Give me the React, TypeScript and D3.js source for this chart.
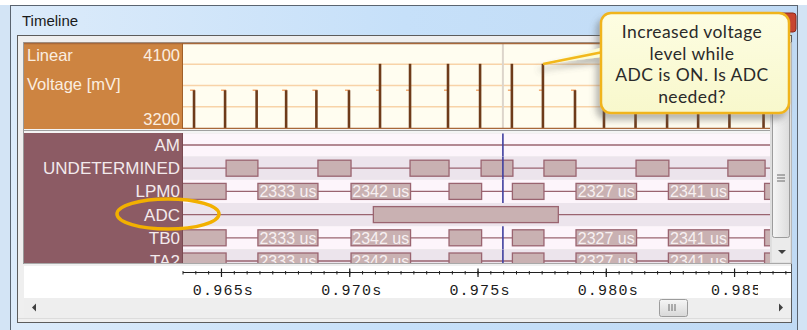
import React from "react";
import * as d3 from "d3";

const W = 807;
const H = 330;

// Voltage spikes (time in ms, voltage in mV)
const spikeTimes = [963.93, 965.14, 966.37, 967.52, 968.7, 969.97, 971.18, 972.35, 973.83, 975.08, 976.32, 977.53, 978.78, 979.91, 981.14, 982.37, 983.58, 984.8, 986.13];
const spikeVoltages = [3600, 3600, 3600, 3600, 3600, 3600, 3880, 3880, 3880, 3880, 3880, 3880, 3600, 3600, 3600, 3600, 3600, 3600, 3600];
const voltageGrid = [3425, 3650, 3875];
const voltageTicks = ["4100", "3200"];

// State rows
const stateLabels = ["AM", "UNDETERMINED", "LPM0", "ADC", "TB0", "TA2"];
const undeterminedOn: [number, number][] = [[965.18, 966.42], [968.76, 970.05], [972.35, 973.87], [975.12, 976.36], [977.57, 978.82], [981.16, 982.44], [984.74, 986.19]];
const lpm0On: [number, number][] = [[963.2, 965.18], [966.42, 968.76], [970.05, 972.37], [973.87, 975.14], [976.34, 977.57], [978.82, 981.18], [982.42, 984.77], [986.17, 987.6]];
const lpm0Labels = ["", "2333 us", "2342 us", "", "", "2327 us", "2341 us", ""];
const adcOn: [number, number][] = [[970.92, 978.13]];
const cursorTime = 975.97;

// Axis
const tickValues = [965, 970, 975, 980, 985];
const tickLabels = ["0.965s", "0.970s", "0.975s", "0.980s", "0.985"];

const calloutLines = ["Increased voltage", "level while", "ADC is ON. Is ADC", "needed?"];

export default function App() {
  const x = d3.scaleLinear().domain([963.5, 987.2]).range([183, 791]);
  const yV = d3.scaleLinear().domain([3200, 4100]).range([128, 43]);
  const rowY = d3.scalePoint<string>().domain(stateLabels).range([145, 261]);
  const step = rowY.step();

  const rows = [
    { name: "AM", on: [] as [number, number][], labels: [] as string[] },
    { name: "UNDETERMINED", on: undeterminedOn, labels: [] as string[] },
    { name: "LPM0", on: lpm0On, labels: lpm0Labels },
    { name: "ADC", on: adcOn, labels: [] as string[] },
    { name: "TB0", on: lpm0On, labels: lpm0Labels },
    { name: "TA2", on: lpm0On, labels: lpm0Labels },
  ];

  const minorTicks = d3.range(963.5, 987.3, 0.5);
  const plotR = 770;
  const cx = x(cursorTime);

  return (
    <div style={{ position: "fixed", left: 0, top: 0 }}>
      <svg width={W} height={H} style={{ display: "block" }} fontFamily="Liberation Sans, Arial, sans-serif">
        <defs>
          <linearGradient id="title" x1="0" y1="0" x2="1" y2="0">
            <stop offset="0" stopColor="#dcebfa" />
            <stop offset="0.5" stopColor="#c6e0f9" />
            <stop offset="1" stopColor="#c0daf4" />
          </linearGradient>
          <linearGradient id="thumbV" x1="0" y1="0" x2="1" y2="0">
            <stop offset="0" stopColor="#f6f6f6" />
            <stop offset="1" stopColor="#dcdcdc" />
          </linearGradient>
          <linearGradient id="thumbH" x1="0" y1="0" x2="0" y2="1">
            <stop offset="0" stopColor="#f6f6f6" />
            <stop offset="1" stopColor="#d8d8d8" />
          </linearGradient>
          <linearGradient id="callout" x1="0" y1="0" x2="0" y2="1">
            <stop offset="0" stopColor="#fdfde2" />
            <stop offset="1" stopColor="#f8f8cc" />
          </linearGradient>
          <filter id="shadow" x="-20%" y="-20%" width="140%" height="150%">
            <feDropShadow dx="-4" dy="6" stdDeviation="3" floodColor="#606060" floodOpacity="0.45" />
          </filter>
          <filter id="soft" x="-10%" y="-30%" width="120%" height="160%">
            <feGaussianBlur stdDeviation="0.6" />
          </filter>
          <clipPath id="vclip"><rect x={183} y={43} width={plotR - 183} height={86} /></clipPath>
          <clipPath id="sclip"><rect x={24} y={133} width={plotR - 24} height={130} /></clipPath>
          <clipPath id="pclip"><rect x={183} y={133} width={plotR - 183} height={130} /></clipPath>
          <clipPath id="aclip"><rect x={183} y={263} width={575} height={35} /></clipPath>
        </defs>

        {/* desktop / frame */}
        <rect x={0} y={0} width={W} height={H} fill="#d3e4f5" />
        <rect x={0} y={0} width={W} height={5} fill="#ffffff" />
        <rect x={10.5} y={5.5} width={787} height={330} fill="url(#title)" stroke="#5a6470" />
        <text x={22} y={26} fontSize={15} fill="#1a1a1a">Timeline</text>
        {/* close button, mostly hidden */}
        <rect x={752} y={13} width={44} height={19} rx={3} fill="#c8452f" stroke="#8a2a1c" />
        <text x={774} y={28} fontSize={14} fill="#fff" textAnchor="middle" fontWeight="bold">X</text>

        {/* client area */}
        <rect x={17.5} y={35.5} width={774} height={287} fill="#efefef" stroke="#5c5c5c" />
        <rect x={23.5} y={42.5} width={768} height={221} fill="#e6e6e6" stroke="#9a9a9a" />

        {/* voltage panel */}
        <rect x={24} y={43} width={159} height={86} fill="#cd8441" />
        <rect x={183} y={43} width={plotR - 183} height={86} fill="#fffdf0" />
        <g clipPath="url(#vclip)">
          {voltageGrid.map((v) => (
            <line key={v} x1={183} x2={plotR} y1={yV(v)} y2={yV(v)} stroke="#f8d3a8" strokeWidth={1.5} />
          ))}
          <line x1={cx} x2={cx} y1={43} y2={129} stroke="#ddd5cb" strokeWidth={2} />
          {spikeTimes.map((t, i) => (
            <g key={i}>
              <line x1={x(t) - 4} x2={x(t) + 1} y1={yV(3600)} y2={yV(3600)} stroke="#f2ab70" strokeWidth={1.5} />
              <line x1={x(t)} x2={x(t)} y1={yV(3200)} y2={yV(spikeVoltages[i])} stroke="#6e3b1a" strokeWidth={2.6} />
            </g>
          ))}
        </g>
        <line x1={24} x2={plotR} y1={43.5} y2={43.5} stroke="#a8683a" strokeWidth={1.5} />
        <line x1={183} x2={plotR} y1={128.5} y2={128.5} stroke="#a8683a" strokeWidth={1.5} />
        <line x1={182.5} x2={182.5} y1={43} y2={129} stroke="#a0602a" />
        <text x={27} y={61} fontSize={16.5} fill="#fbeee0">Linear</text>
        <text x={27} y={90} fontSize={16.5} fill="#fbeee0">Voltage [mV]</text>
        <text x={180} y={61} fontSize={16.5} fill="#fbeee0" textAnchor="end">{voltageTicks[0]}</text>
        <text x={180} y={125} fontSize={16.5} fill="#fbeee0" textAnchor="end">{voltageTicks[1]}</text>

        {/* separator */}
        <rect x={24} y={129} width={plotR - 24} height={4} fill="#f4f4f4" />
        <line x1={24} x2={plotR} y1={130.5} y2={130.5} stroke="#a0a0a0" />

        {/* state panel */}
        <g clipPath="url(#sclip)">
          <rect x={24} y={133} width={159} height={130} fill="#8c5b64" />
          {rows.map((r) => {
            const cy = rowY(r.name)!;
            return (
              <text key={r.name} x={180} y={cy + 6} fontSize={17} fill="#f3eaec" textAnchor="end">{r.name}</text>
            );
          })}
          <line x1={182.5} x2={182.5} y1={133} y2={263} stroke="#7a4a52" />
        </g>
        <g clipPath="url(#pclip)">
          {rows.map((r, i) => {
            const cy = rowY(r.name)!;
            return (
              <g key={r.name}>
                <rect x={183} y={cy - step / 2} width={plotR - 183} height={step} fill={i % 2 === 0 ? "#fdf5fb" : "#ece4ec"} />
                <line x1={183} x2={plotR} y1={cy} y2={cy} stroke="#9a6470" strokeWidth={1.3} />
                {r.on.map(([a, b], j) => (
                  <g key={j}>
                    <rect x={x(a)} y={cy - 8} width={x(b) - x(a)} height={16} fill="#c9b1b2" stroke="#9a6470" strokeWidth={1.3} />
                    {r.labels[j] ? (
                      <text x={(x(a) + x(b)) / 2} y={cy + 6} fontSize={16} textAnchor="middle" fill="#f7f0f1" fontFamily="Liberation Sans Narrow, Liberation Sans, Arial, sans-serif">{r.labels[j]}</text>
                    ) : null}
                  </g>
                ))}
                {r.name !== "ADC" ? (
                  <line x1={cx} x2={cx} y1={cy - step / 2} y2={cy + step / 2} stroke="#3f3f9f" strokeWidth={1.6} />
                ) : null}
              </g>
            );
          })}
        </g>

        {/* vertical scrollbar */}
        <rect x={771} y={43} width={20} height={220} fill="#ebebeb" stroke="#d4d4d4" />
        <rect x={772.5} y={57.5} width={17} height={180} rx={2} fill="url(#thumbV)" stroke="#9c9c9c" />
        {[175, 178, 181].map((yy) => (
          <line key={yy} x1={777} x2={785} y1={yy} y2={yy} stroke="#6a6a6a" />
        ))}
        <path d="M778,250 L786,250 L782,254 Z" fill="#404040" />

        {/* axis area */}
        <rect x={24} y={263} width={767} height={35} fill="#ffffff" />
        <line x1={24} x2={791} y1={263.5} y2={263.5} stroke="#a8a8a8" />
        <line x1={24} x2={791} y1={265} y2={265} stroke="#e0e0e0" />
        <line x1={183} x2={791} y1={272.5} y2={272.5} stroke="#202020" />
        {minorTicks.map((t) => (
          <line key={t} x1={x(t)} x2={x(t)} y1={271} y2={274.5} stroke="#202020" />
        ))}
        {tickValues.map((t) => (
          <line key={t} x1={x(t)} x2={x(t)} y1={268.5} y2={277} stroke="#202020" strokeWidth={1.2} />
        ))}
        <g clipPath="url(#aclip)">
          {tickValues.map((t, i) => (
            <text key={t} x={x(t) + 2} y={295} fontSize={15} textAnchor="middle" fill="#1a1a1a" letterSpacing={1.2} fontFamily="Liberation Mono, DejaVu Sans Mono, monospace">{tickLabels[i]}</text>
          ))}
        </g>

        {/* horizontal scrollbar */}
        <rect x={24} y={298} width={767} height={20} fill="#eeeeee" />
        <path d="M36,303.5 L36,311.5 L32,307.5 Z" fill="#404040" />
        <path d="M779,303.5 L779,311.5 L783,307.5 Z" fill="#404040" />
        <rect x={659.5} y={299.5} width={28} height={17} rx={2} fill="url(#thumbH)" stroke="#9c9c9c" />
        {[669, 672, 675].map((xx) => (
          <line key={xx} x1={xx} x2={xx} y1={304} y2={311} stroke="#6a6a6a" />
        ))}
        <line x1={18} x2={791} y1={318.5} y2={318.5} stroke="#dcdcdc" />

        {/* ADC highlight ellipse */}
        <ellipse cx={168} cy={214} rx={51} ry={15} fill="none" stroke="#f2b000" strokeWidth={3.5} filter="url(#soft)" />

        {/* callout */}
        <g filter="url(#shadow)">
          <path d="M543,64 L603,47 L603,57 Z" fill="#fbfbd4" />
          <line x1={543} y1={64} x2={603} y2={52} stroke="#f2b81c" strokeWidth={2.5} />
          <rect x={601} y={13} width={188} height={100} rx={10} fill="url(#callout)" stroke="#f0b41c" strokeWidth={2.5} />
        </g>
        {calloutLines.map((s, i) => (
          <text key={i} x={692} y={38 + i * 21.7} fontSize={17.5} textAnchor="middle" fill="#2a2a2a" fontFamily="Lato, Open Sans, sans-serif" letterSpacing={0.4}>{s}</text>
        ))}
      </svg>
    </div>
  );
}
